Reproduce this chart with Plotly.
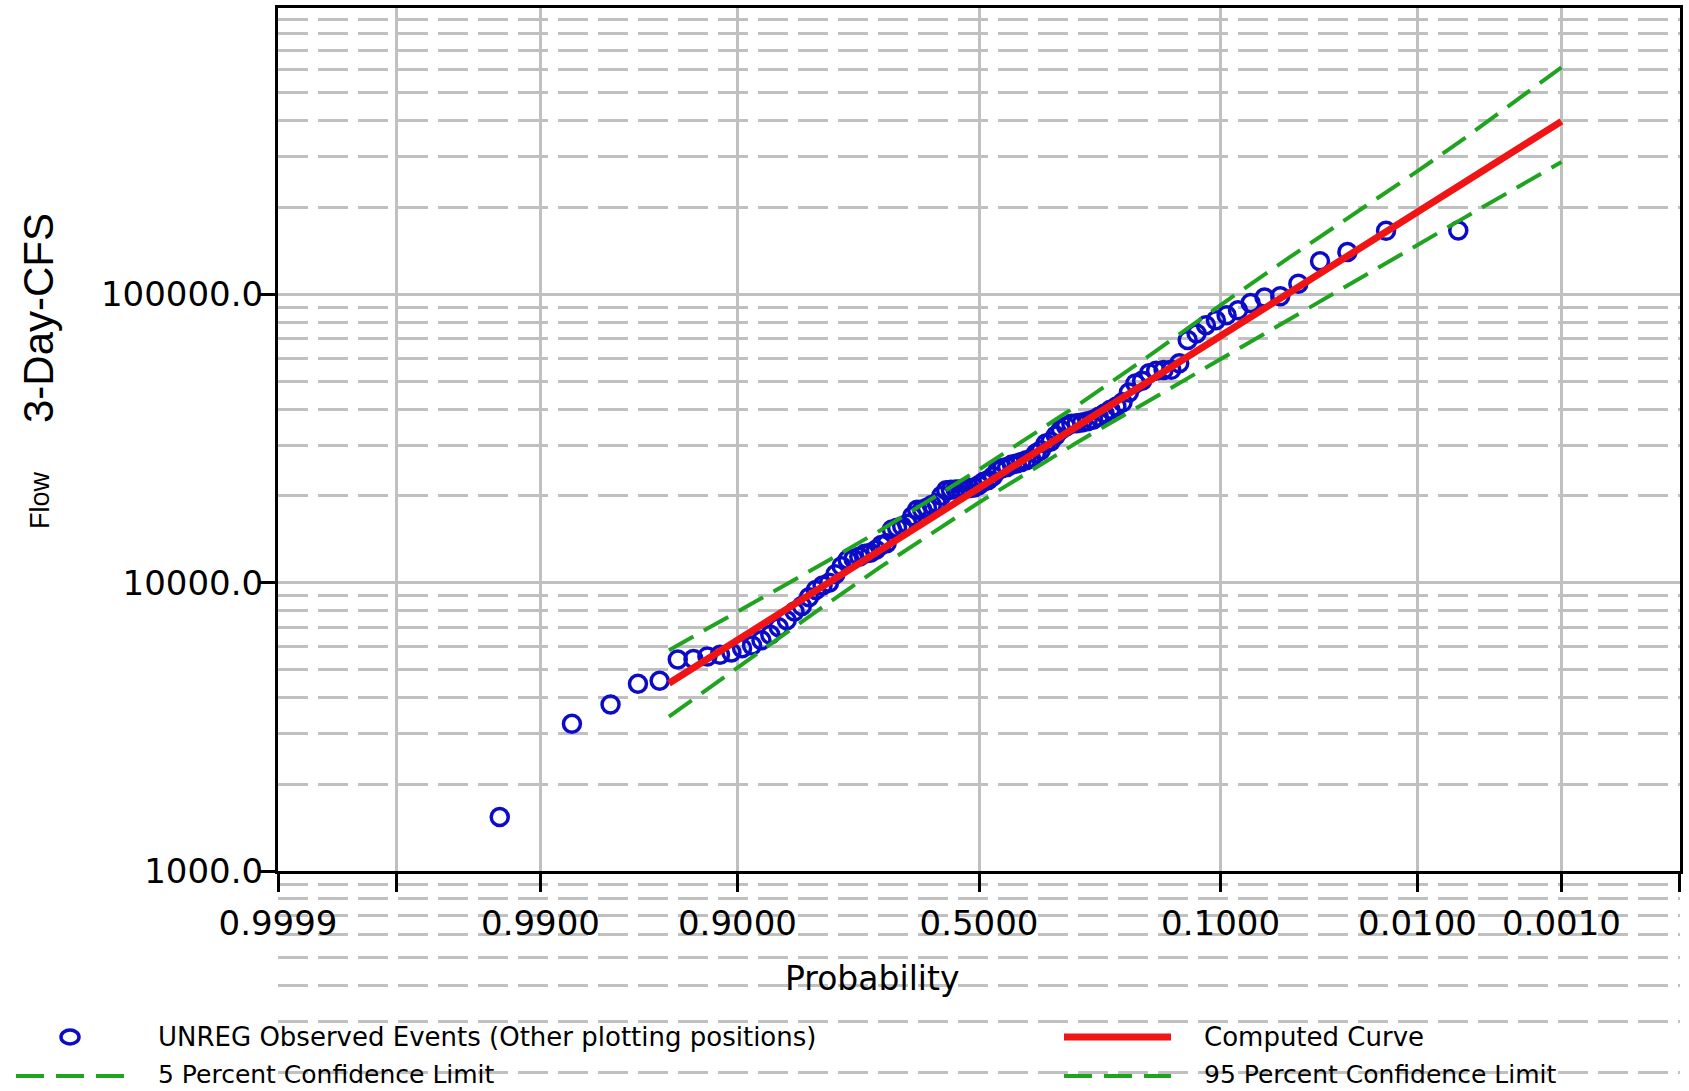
import plotly.graph_objects as go
from statistics import NormalDist

# ---------------- data ----------------
# Observed events: exceedance probability (plotting position) and 3-day flow (cfs), ranked largest first
obs_exceedance = [
    0.0055, 0.0154, 0.0253, 0.0352, 0.0451, 0.0550, 0.0649, 0.0748, 0.0847, 0.0945,
    0.1044, 0.1143, 0.1242, 0.1341, 0.1440, 0.1539, 0.1638, 0.1737, 0.1835, 0.1934,
    0.2033, 0.2132, 0.2231, 0.2330, 0.2429, 0.2528, 0.2627, 0.2725, 0.2824, 0.2923,
    0.3022, 0.3121, 0.3220, 0.3319, 0.3418, 0.3517, 0.3616, 0.3714, 0.3813, 0.3912,
    0.4011, 0.4110, 0.4209, 0.4308, 0.4407, 0.4506, 0.4604, 0.4703, 0.4802, 0.4901,
    0.5000, 0.5099, 0.5198, 0.5297, 0.5396, 0.5494, 0.5593, 0.5692, 0.5791, 0.5890,
    0.5989, 0.6088, 0.6187, 0.6286, 0.6384, 0.6483, 0.6582, 0.6681, 0.6780, 0.6879,
    0.6978, 0.7077, 0.7176, 0.7275, 0.7373, 0.7472, 0.7571, 0.7670, 0.7769, 0.7868,
    0.7967, 0.8066, 0.8165, 0.8263, 0.8362, 0.8461, 0.8560, 0.8659, 0.8758, 0.8857,
    0.8956, 0.9055, 0.9153, 0.9252, 0.9351, 0.9450, 0.9549, 0.9648, 0.9747, 0.9846,
    0.9945,
]
obs_flow = [
    166500, 166000, 140300, 130200, 108900, 98500, 97500, 93300, 88100, 84600,
    81300, 78100, 73100, 69400, 57700, 54700, 54600, 54300, 53200, 50100,
    49100, 45700, 42200, 40800, 39800, 38600, 37600, 36700, 36300, 35900,
    35700, 35600, 34800, 33900, 32400, 30900, 30400, 28800, 28100, 26900,
    26600, 26200, 25900, 25700, 25200, 25000, 24500, 23400, 22700, 22400,
    21800, 21400, 21300, 21200, 21100, 21050, 21000, 20900, 20000, 18900,
    18600, 18200, 17950, 17900, 17000, 16000, 15700, 15500, 15300, 13700,
    13500, 13000, 12700, 12600, 12300, 12100, 12000, 11400, 10700, 10000,
    9770, 9440, 8900, 8300, 7940, 7410, 7000, 6600, 6310, 6050,
    5920, 5730, 5620, 5550, 5440, 5410, 4570, 4460, 3780, 3240,
    1540,
]

# Frequency curves
curve_exceedance = [0.95, 0.9, 0.8, 0.7, 0.5, 0.3, 0.2, 0.1, 0.05, 0.02, 0.01, 0.005, 0.002, 0.001]
computed_flow = [4480, 6320, 9590, 12950, 21280, 35000, 47200, 71600, 101100, 149000, 192800, 244300, 325200, 398000]
cl05_flow = [5830, 7910, 11510, 15170, 24660, 41300, 57400, 91800, 134000, 202800, 267300, 347500, 483100, 612400]
cl95_flow = [3430, 5080, 8130, 11320, 18970, 30760, 40550, 59160, 81280, 116700, 148300, 184500, 239300, 287700]

# Axis ticks
x_tick_probs = [0.9999, 0.999, 0.99, 0.9, 0.5, 0.1, 0.01, 0.001, 0.0001]
x_tick_text = ["0.9999", "", "0.9900", "0.9000", "0.5000", "0.1000", "0.0100", "0.0010", ""]
y_tick_vals = [1000, 10000, 100000]
y_tick_text = ["1000.0", "10000.0", "100000.0"]
y_minor_vals = [m * d for d in (1000, 10000, 100000) for m in range(2, 10)]
ext_grid_vals = [200, 300, 400, 500, 600, 700, 800, 900]

# ---------------- probability scale ----------------
nd = NormalDist()


def zscore(p):
    return nd.inv_cdf(1.0 - p)


# ---------------- geometry ----------------
W, H = 1689, 1091
ML, MR, MT, MB = 278, 9, 8, 0
PW, PH = W - ML - MR, H - MT - MB
PLOT_BOTTOM = 871
ydom0 = (H - MB - PLOT_BOTTOM) / PH
Y_TOP_LOG = 5.993
px_per_dec = (PLOT_BOTTOM - MT) / (Y_TOP_LOG - 3.0)


def pxx(px):
    return (px - ML) / PW


def pxy(py):
    return (H - MB - py) / PH


GRID = "#c0c0c0"
BLUE = "#0c0cc8"
RED = "#f01414"
GREEN = "#20a420"
DASH_GRID = "30px,10px"
DASH_CL = "28px,12px"
FONT = "DejaVu Sans"
ROW1, ROW2 = 1037, 1074

zr = abs(zscore(0.0001)) * 1.00002

fig = go.Figure()

# dummy trace to keep the lower grid-extension subplot alive
fig.add_trace(go.Scatter(x=[], y=[], xaxis="x", yaxis="y", showlegend=False, hoverinfo="skip"))

fig.add_trace(go.Scatter(
    x=[zscore(p) for p in obs_exceedance], y=obs_flow, xaxis="x2", yaxis="y2",
    mode="markers", name="UNREG Observed Events (Other plotting positions)",
    marker=dict(symbol="circle-open", size=17, color=BLUE, line=dict(width=3.5, color=BLUE)),
    showlegend=False,
))
fig.add_trace(go.Scatter(
    x=[zscore(p) for p in curve_exceedance], y=cl05_flow, xaxis="x2", yaxis="y2",
    mode="lines", name="5 Percent Confidence Limit",
    line=dict(color=GREEN, width=4, dash=DASH_CL), showlegend=False,
))
fig.add_trace(go.Scatter(
    x=[zscore(p) for p in curve_exceedance], y=cl95_flow, xaxis="x2", yaxis="y2",
    mode="lines", name="95 Percent Confidence Limit",
    line=dict(color=GREEN, width=4, dash=DASH_CL), showlegend=False,
))
fig.add_trace(go.Scatter(
    x=[zscore(p) for p in curve_exceedance], y=computed_flow, xaxis="x2", yaxis="y2",
    mode="lines", name="Computed Curve",
    line=dict(color=RED, width=7), showlegend=False,
))

fig.update_layout(
    width=W, height=H,
    margin=dict(l=ML, r=MR, t=MT, b=MB, pad=0, autoexpand=False),
    paper_bgcolor="white", plot_bgcolor="white",
    showlegend=False,
    font=dict(family=FONT, color="black"),
    # lower region: minor grid lines continue below the axis
    xaxis=dict(domain=[0, 1], range=[0, 1], anchor="y", showgrid=False, zeroline=False,
               showline=False, showticklabels=False, ticks="", fixedrange=True, automargin=False),
    yaxis=dict(domain=[0, ydom0], type="log", anchor="x",
               range=[3.0 - (H - MB - PLOT_BOTTOM) / px_per_dec, 3.0],
               tickvals=ext_grid_vals, showticklabels=False, ticks="",
               showgrid=True, gridcolor=GRID, gridwidth=3, griddash=DASH_GRID,
               zeroline=False, showline=False, fixedrange=True, automargin=False),
    # main probability plot
    xaxis2=dict(domain=[0, 1], range=[-zr, zr], anchor="y2", automargin=False,
                tickvals=[zscore(p) for p in x_tick_probs], ticktext=x_tick_text,
                showgrid=True, gridcolor=GRID, gridwidth=3, zeroline=False,
                ticks="outside", ticklen=18, tickwidth=3, tickcolor="black",
                showline=True, linewidth=3, linecolor="black", mirror=True,
                tickfont=dict(family=FONT, size=34, color="black"), ticklabelstandoff=2),
    yaxis2=dict(domain=[ydom0, 1], type="log", range=[3.0, Y_TOP_LOG], anchor="x2", automargin=False,
                tickvals=y_tick_vals, ticktext=y_tick_text,
                showgrid=True, gridcolor=GRID, gridwidth=3, zeroline=False,
                minor=dict(tickvals=y_minor_vals, showgrid=True, gridcolor=GRID, gridwidth=3,
                           griddash=DASH_GRID, ticks=""),
                ticks="outside", ticklen=15, tickwidth=3, tickcolor="black",
                showline=True, linewidth=3, linecolor="black", mirror=True,
                tickfont=dict(family=FONT, size=34, color="black"), ticklabelstandoff=-10),
)

annotations = [
    dict(text="Probability", x=pxx(872), y=pxy(978), xref="paper", yref="paper",
         showarrow=False, xanchor="center", yanchor="middle",
         font=dict(family=FONT, size=33, color="black")),
    dict(text="3-Day-CFS", x=pxx(38), y=pxy(318), xref="paper", yref="paper",
         showarrow=False, textangle=-90, xanchor="center", yanchor="middle",
         font=dict(family="Liberation Sans", size=42, color="black")),
    dict(text="Flow", x=pxx(40), y=pxy(500), xref="paper", yref="paper",
         showarrow=False, textangle=-90, xanchor="center", yanchor="middle",
         font=dict(family="Liberation Sans", size=27, color="black")),
    dict(text="UNREG Observed Events (Other plotting positions)", x=pxx(156), y=pxy(ROW1),
         xref="paper", yref="paper", showarrow=False, xanchor="left", yanchor="middle",
         font=dict(family=FONT, size=26, color="black")),
    dict(text="5 Percent Confidence Limit", x=pxx(156), y=pxy(ROW2),
         xref="paper", yref="paper", showarrow=False, xanchor="left", yanchor="middle",
         font=dict(family=FONT, size=25, color="black")),
    dict(text="Computed Curve", x=pxx(1202), y=pxy(ROW1),
         xref="paper", yref="paper", showarrow=False, xanchor="left", yanchor="middle",
         font=dict(family=FONT, size=26, color="black")),
    dict(text="95 Percent Confidence Limit", x=pxx(1202), y=pxy(ROW2),
         xref="paper", yref="paper", showarrow=False, xanchor="left", yanchor="middle",
         font=dict(family=FONT, size=25, color="black")),
]
fig.update_layout(annotations=annotations)

shapes = [
    dict(type="circle", xref="paper", yref="paper", xsizemode="pixel", ysizemode="pixel",
         xanchor=pxx(70), yanchor=pxy(ROW1), x0=-9, x1=9, y0=-7, y1=7,
         line=dict(color=BLUE, width=3.5)),
    dict(type="line", xref="paper", yref="paper", x0=pxx(16), x1=pxx(127), y0=pxy(ROW2 + 2), y1=pxy(ROW2 + 2),
         line=dict(color=GREEN, width=4, dash=DASH_CL)),
    dict(type="line", xref="paper", yref="paper", x0=pxx(1064), x1=pxx(1171), y0=pxy(ROW1), y1=pxy(ROW1),
         line=dict(color=RED, width=7)),
    dict(type="line", xref="paper", yref="paper", x0=pxx(1064), x1=pxx(1171), y0=pxy(ROW2 + 2), y1=pxy(ROW2 + 2),
         line=dict(color=GREEN, width=4, dash=DASH_CL)),
]
fig.update_layout(shapes=shapes)

fig.write_html("out.html", config={"displayModeBar": False},
               post_script="document.body.style.margin='0px';document.body.style.overflow='hidden';")
